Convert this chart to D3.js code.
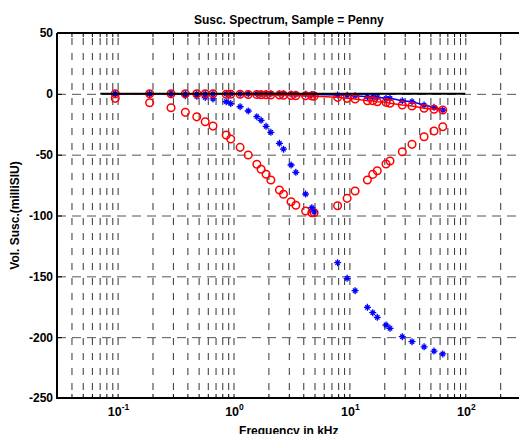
<!DOCTYPE html>
<html>
<head>
<meta charset="utf-8">
<script src="https://d3js.org/d3.v7.min.js"></script>
<style>
  body { margin: 0; background: #fff; }
  svg text { font-family: "Liberation Sans", Arial, sans-serif; font-weight: bold; }
</style>
</head>
<body>
<svg id="chart"></svg>
<script>
// frequencies in kHz (same for all four series)
var freq = [0.0955, 0.189, 0.289, 0.384, 0.482, 0.570, 0.665, 0.865, 0.946, 1.14,
            1.34, 1.59, 1.73, 1.91, 2.10, 2.49, 2.70, 3.14, 3.45, 4.19,
            4.74, 4.96, 7.91, 9.56, 11.2, 14.3, 15.9, 17.4, 20.7, 22.4,
            28.6, 34.7, 44.1, 53.7, 63.9];

// blue line with stars (near zero)
var blueLine = [0, 0, 0, 0, 0, 0, 0, 0, 0, 0,
                0, 0, 0, 0, 0, 0, 0, -0.2, -0.3, -0.4,
                -0.5, -0.5, -1.0, -1.2, -1.5, -2.4, -2.4, -2.9, -3.7, -3.7,
                -5.7, -6.5, -9.2, -11.1, -13.3];

// red line with circles (near zero)
var redLine = [0, 0, 0, 0, 0, 0, 0, -0.3, -0.3, -0.4,
               -0.5, -0.6, -0.7, -0.8, -0.9, -1.0, -1.1, -1.4, -1.5, -1.6,
               -1.8, -1.9, -2.9, -3.7, -4.3, -5.7, -5.7, -6.5, -7.0, -7.8,
               -9.2, -10.0, -11.9, -12.7, -13.3];

// red circles, no line
var redDip = [-3.7, -7.3, -11.4, -15.2, -18.9, -22.9, -26.5, -33.9, -37.1, -44.0,
              -50.3, -57.9, -62.0, -66.1, -70.8, -79.0, -82.5, -88.7, -91.6, -96.3,
              -97.7, -97.7, -92.0, -85.9, -79.9, -70.8, -66.2, -63.2, -57.7, -55.2,
              -47.6, -41.5, -35.3, -30.6, -27.0];

// blue stars, no line
var blueDip = [0, 0, 0, -1.5, -2.0, -3.0, -4.2, -6.5, -8.0, -10.6,
               -14.1, -18.8, -21.8, -26.7, -31.6, -40.7, -45.5, -58.5, -64.5, -82.4,
               -93.6, -97.1, -138.8, -151.6, -161.8, -175.5, -179.9, -183.7, -190.0, -192.7,
               -199.6, -203.7, -207.9, -211.4, -213.8];

// black reference line at zero
var zeroFreq = [0.071, 100];
var zeroVal = [0, 0];

var xDomain = [0.03, 300];
var yDomain = [-250, 50];
var yTicks = [-250, -200, -150, -100, -50, 0, 50];
var xLabelPowers = [-1, 0, 1, 2];

var svgWidth = 519, svgHeight = 434;
var plotLeft = 57, plotRight = 520.6, plotTop = 33, plotBottom = 398;
var plotW = plotRight - plotLeft, plotH = plotBottom - plotTop;

var svg = d3.select("#chart")
    .attr("width", svgWidth)
    .attr("height", svgHeight);

svg.append("rect")
    .attr("width", svgWidth)
    .attr("height", svgHeight)
    .attr("fill", "#fff");

var x = d3.scaleLog().domain(xDomain).range([plotLeft, plotRight]);
var y = d3.scaleLinear().domain(yDomain).range([plotBottom, plotTop]);

// every 1..9 x 10^k tick inside the domain
var xTicks = x.ticks().filter(function(t) { return t > xDomain[0] && t < xDomain[1]; });

// grid: vertical (from the top down) and horizontal
var gridV = svg.append("g")
    .attr("transform", "translate(0," + plotTop + ")")
    .call(d3.axisTop(x).tickValues(xTicks).tickSize(-plotH).tickFormat(""));
gridV.select(".domain").remove();
gridV.selectAll("line")
    .attr("stroke", "#333")
    .attr("stroke-dasharray", "7,8")
    .attr("stroke-dashoffset", 10);

var gridH = svg.append("g")
    .attr("transform", "translate(" + plotLeft + ",0)")
    .call(d3.axisLeft(y).tickValues([-200, -150, -100, -50, 0]).tickSize(-plotW).tickFormat(""));
gridH.select(".domain").remove();
gridH.selectAll("line")
    .attr("stroke", "#555")
    .attr("stroke-dasharray", "9,6");

// ticks inside the box
var axB = svg.append("g")
    .attr("transform", "translate(0," + plotBottom + ")")
    .call(d3.axisBottom(x).tickValues(xTicks).tickSize(-4).tickFormat(""));
var axT = svg.append("g")
    .attr("transform", "translate(0," + plotTop + ")")
    .call(d3.axisTop(x).tickValues(xTicks).tickSize(-4).tickFormat(""));
var axL = svg.append("g")
    .attr("transform", "translate(" + plotLeft + ",0)")
    .call(d3.axisLeft(y).tickValues(yTicks).tickSize(-5).tickPadding(4)
        .tickFormat(function(d) { return d; }));
[axB, axT, axL].forEach(function(a) {
    a.select(".domain").remove();
    a.selectAll("line").attr("stroke", "#000");
});
axL.selectAll("text")
    .attr("font-size", "12px")
    .attr("fill", "#000");

// box
svg.append("path")
    .attr("d", "M" + plotLeft + "," + plotTop + "H" + plotRight +
               "M" + plotLeft + "," + plotTop + "V" + plotBottom + "H" + plotRight)
    .attr("fill", "none")
    .attr("stroke", "#000")
    .attr("stroke-width", 2);

// x tick labels 10^k
var xl = svg.append("g");
xLabelPowers.forEach(function(p) {
    var t = xl.append("text")
        .attr("x", x(Math.pow(10, p)) + 1)
        .attr("y", 416)
        .attr("text-anchor", "middle")
        .attr("font-size", "12.5px");
    t.append("tspan").text("10");
    t.append("tspan").attr("dy", -6).attr("font-size", "8.5px").text(p);
});

// markers
var star = {
    draw: function(ctx, size) {
        var r = Math.sqrt(size) / 2, d = r * 0.62;
        ctx.moveTo(-r, 0); ctx.lineTo(r, 0);
        ctx.moveTo(0, -r); ctx.lineTo(0, r);
        ctx.moveTo(-d, -d); ctx.lineTo(d, d);
        ctx.moveTo(-d, d); ctx.lineTo(d, -d);
    }
};

function pts(vals) {
    return vals.map(function(v, i) { return { f: freq[i], v: v }; });
}

var line = d3.line()
    .x(function(d) { return x(d.f); })
    .y(function(d) { return y(d.v); });

function drawCircles(data) {
    svg.append("g").selectAll("circle")
        .data(data).enter().append("circle")
        .attr("cx", function(d) { return x(d.f); })
        .attr("cy", function(d) { return y(d.v); })
        .attr("r", 3.8)
        .attr("fill", "none")
        .attr("stroke", "#ff0000")
        .attr("stroke-width", 1.5);
}

function drawStars(data) {
    svg.append("g").selectAll("path")
        .data(data).enter().append("path")
        .attr("transform", function(d) { return "translate(" + x(d.f) + "," + y(d.v) + ")"; })
        .attr("d", d3.symbol().type(star).size(49))
        .attr("fill", "none")
        .attr("stroke", "#0000ff")
        .attr("stroke-width", 1.3);
}

drawCircles(pts(redDip));
drawStars(pts(blueDip));

svg.append("path")
    .datum(pts(blueLine))
    .attr("fill", "none")
    .attr("stroke", "#0000ff")
    .attr("stroke-width", 1.5)
    .attr("d", line);
drawStars(pts(blueLine));

svg.append("path")
    .datum(pts(redLine))
    .attr("fill", "none")
    .attr("stroke", "#ff0000")
    .attr("stroke-width", 1.5)
    .attr("d", line);
drawCircles(pts(redLine));

svg.append("path")
    .datum(zeroFreq.map(function(f, i) { return { f: f, v: zeroVal[i] }; }))
    .attr("fill", "none")
    .attr("stroke", "#000")
    .attr("stroke-width", 2)
    .attr("d", line);

// titles
svg.append("text")
    .attr("x", (plotLeft + plotRight) / 2)
    .attr("y", 24)
    .attr("text-anchor", "middle")
    .attr("font-size", "12px")
    .text("Susc. Spectrum, Sample = Penny");

svg.append("text")
    .attr("x", (plotLeft + plotRight) / 2)
    .attr("y", 435)
    .attr("text-anchor", "middle")
    .attr("font-size", "12px")
    .text("Frequency in kHz");

svg.append("text")
    .attr("transform", "translate(19," + (plotTop + plotBottom) / 2 + ") rotate(-90)")
    .attr("text-anchor", "middle")
    .attr("font-size", "12px")
    .text("Vol. Susc.(milliSIU)");
</script>
</body>
</html>
